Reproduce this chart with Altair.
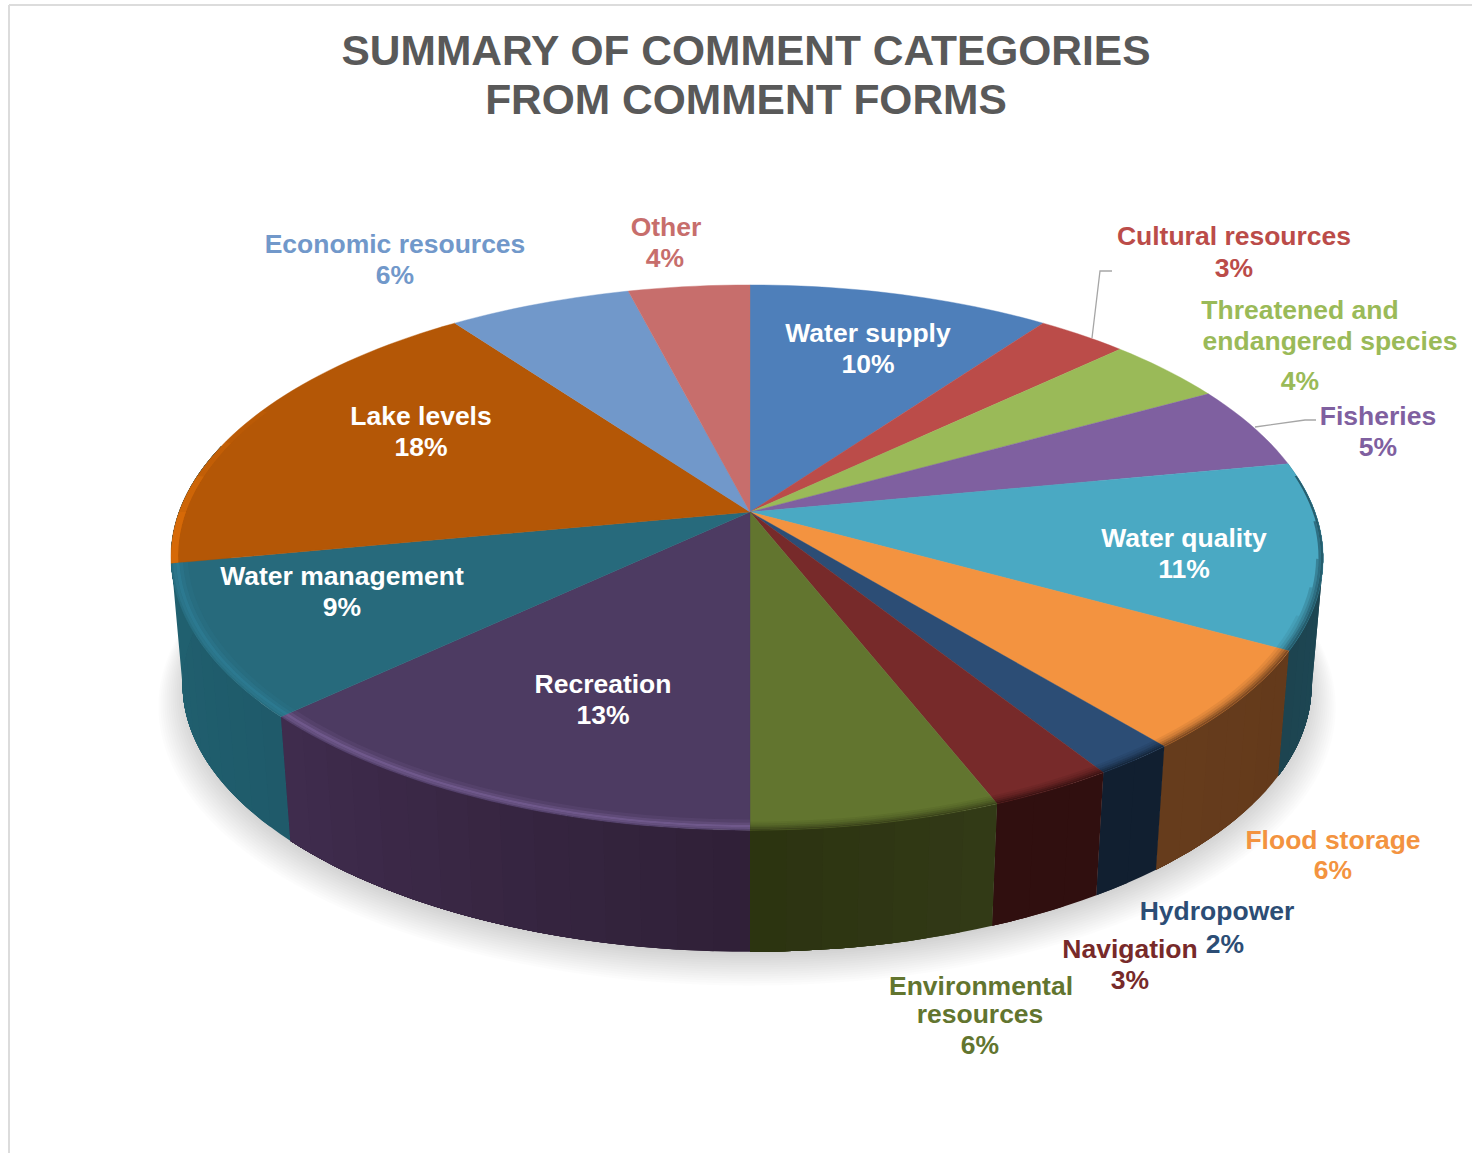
import math
import altair as alt

# Comment categories, clockwise from twelve o'clock
categories = ["Water supply", "Cultural resources", "Threatened and endangered species",
              "Fisheries", "Water quality", "Flood storage", "Hydropower", "Navigation",
              "Environmental resources", "Recreation", "Water management", "Lake levels",
              "Economic resources", "Other"]
shares = [10, 3, 4, 5, 11, 6, 2, 3, 6, 13, 9, 18, 6, 4]
top_colors = ["#4e7fba", "#bb4c49", "#9aba58", "#7f60a0", "#4aa9c3", "#f39340", "#2c4d75",
              "#772a2a", "#62752f", "#4d3b62", "#276a7c", "#b45706", "#7198ca", "#c76e6c"]
# Colour of the outer wall at the start and the end of each slice
wall_start = ["#2e4c70", "#702c2b", "#5c6e34", "#4b3a60", "#1d4a58", "#643a1b", "#111f30",
              "#300f0f", "#333a17", "#2f2037", "#1f5a6a", "#a04c05", "#43597a", "#753f3f"]
wall_end = ["#2e4c70", "#702c2b", "#5c6e34", "#4b3a60", "#1d4450", "#663c1c", "#111f30",
            "#300f0f", "#2b3310", "#402c4e", "#20606f", "#a04c05", "#43597a", "#753f3f"]

# Perspective of the pie disc
CX, CY = 750.0, 512.0
HALF_W, HALF_H, TILT, LEAN = 568.0, 265.0, 0.167, 3.0
WALL_SCALE, WALL_Y = 0.98, 640.0
# Angle where the disc's left silhouette ends the visible wall
LEFT_SILHOUETTE = 285.0


def project(deg, radius=1.0, cy=CY, scale=1.0):
    t = math.radians(deg)
    u, v = radius * math.sin(t), radius * math.cos(t)
    w = 1 + TILT * v
    return [CX + scale * HALF_W * u / w - LEAN * u * u, cy - scale * HALF_H * v / w]


def arc(a0, a1, radius=1.0, cy=CY, scale=1.0):
    n = max(2, int(abs(a1 - a0) / 1.5) + 1)
    return [project(a0 + (a1 - a0) * i / (n - 1), radius, cy, scale) for i in range(n)]


def feature(ring, **props):
    return {"type": "Feature", "properties": props,
            "geometry": {"type": "Polygon", "coordinates": [ring + [ring[0]]]}}


def mix(c0, c1, f):
    a = [int(c0[i:i + 2], 16) for i in (1, 3, 5)]
    b = [int(c1[i:i + 2], 16) for i in (1, 3, 5)]
    return "#%02x%02x%02x" % tuple(round(x + (y - x) * f) for x, y in zip(a, b))


# Slice angles from the shares
edges = [0.0]
for s in shares:
    edges.append(edges[-1] + s * 3.6)

shadow, walls, tops, rims = [], [], [], []

# Soft ground shadow: stacked translucent discs, each a little larger
for i in range(18):
    grow = 0.0035 * (i - 5)
    ring = arc(0, 360, 1.0, WALL_Y + 1 + 1.15 * i, WALL_SCALE + grow)
    shadow.append(feature(ring[:-1], fill="#000000", o=0.0135))

for idx, name in enumerate(categories):
    a0, a1 = edges[idx], edges[idx + 1]
    # Outer wall: each strip runs to the slice end and the next one paints over it,
    # so the shade changes along the wall without seams
    if a1 > 85 and a0 < 250:
        wall_to = LEFT_SILHOUETTE if name == "Water management" else a1
        steps = max(1, int((a1 - a0) / 3))
        for j in range(steps):
            b0 = a0 + (a1 - a0) * j / steps
            ring = arc(b0, wall_to) + arc(wall_to, b0, 1.0, WALL_Y, WALL_SCALE)
            c = mix(wall_start[idx], wall_end[idx], (j + 0.5) / steps)
            walls.append(feature(ring, fill=c, o=1))
    # Top face of the slice
    tops.append(feature([[CX, CY]] + arc(a0, a1), fill=top_colors[idx], o=1))

    # Rim of the disc: lit on the left, shaded on the right
    lit = {"Recreation": "#7d659c", "Water management": "#2f8098"}
    if name in lit:
        bands = [(0.972, 0.98, 0.15), (0.98, 0.986, 0.4), (0.986, 0.992, 0.7),
                 (0.992, 0.997, 0.5), (0.997, 1.0, 0.2)]
        for r0, r1, o in bands:
            ring = arc(a0, a1, r1) + arc(a1, a0, r0)
            rims.append(feature(ring, fill=lit[name], o=o))
    elif name == "Lake levels":
        # The lit edge fades out as it climbs the left side
        for end, o in [(270, 0.35), (278, 0.3), (286, 0.2), (294, 0.12)]:
            ring = arc(a0, end, 1.0) + arc(end, a0, 0.988)
            rims.append(feature(ring, fill="#e8730a", o=o))
    elif a1 > 80 and a1 <= 180:
        # The shaded edge widens gradually as it comes round the right side
        bands = [(0.978, 0.983, 0.1, 112), (0.983, 0.988, 0.22, 106), (0.988, 0.992, 0.4, 100),
                 (0.992, 0.996, 0.6, 92), (0.996, 1.0, 0.8, 82)]
        for r0, r1, o, begin in bands:
            start = max(a0, begin)
            if start < a1:
                ring = arc(start, a1, r1) + arc(a1, start, r0)
                rims.append(feature(ring, fill=wall_start[idx], o=o))

# Label lines: text, colour, centre and baseline
label_text = ["Economic resources", "6%", "Other", "4%", "Cultural resources", "3%",
              "Threatened and", "endangered species", "4%", "Fisheries", "5%",
              "Water supply", "10%", "Water quality", "11%", "Lake levels", "18%",
              "Water management", "9%", "Recreation", "13%", "Flood storage", "6%",
              "Hydropower", "2%", "Navigation", "3%", "Environmental", "resources", "6%"]
label_color = ["#7198ca"] * 2 + ["#c76e6c"] * 2 + ["#bb4c49"] * 2 + ["#9aba58"] * 3 + \
              ["#7f60a0"] * 2 + ["#ffffff"] * 10 + ["#f39340"] * 2 + ["#2c4d75"] * 2 + \
              ["#772a2a"] * 2 + ["#62752f"] * 3
label_x = [395, 395, 666, 665, 1234, 1234, 1300, 1330, 1300, 1378, 1378,
           868, 868, 1184, 1184, 421, 421, 342, 342, 603, 603, 1333, 1333,
           1217, 1225, 1130, 1130, 981, 980, 980]
label_y = [253, 284, 236, 267, 245, 277, 319, 350, 390, 425, 456,
           342, 373, 547, 578, 425, 456, 585, 616, 693, 724, 849, 879,
           920, 953, 958, 989, 995, 1023, 1054]
labels = [{"t": t, "c": c, "x": x, "y": y}
          for t, c, x, y in zip(label_text, label_color, label_x, label_y)]

title_lines = [{"t": "SUMMARY OF COMMENT CATEGORIES", "x": 746, "y": 65},
               {"t": "FROM COMMENT FORMS", "x": 746, "y": 114}]

# Leader lines of the two labels that sit away from their slices
leaders = [
    {"k": "c", "n": 0, "x": 1092, "y": 338}, {"k": "c", "n": 1, "x": 1100, "y": 271},
    {"k": "c", "n": 2, "x": 1112, "y": 271},
    {"k": "f", "n": 0, "x": 1255, "y": 427}, {"k": "f", "n": 1, "x": 1305, "y": 420},
    {"k": "f", "n": 2, "x": 1316, "y": 420},
]
frame = [{"k": "t", "n": 0, "x": 9, "y": 5}, {"k": "t", "n": 1, "x": 1472, "y": 5},
         {"k": "l", "n": 0, "x": 9, "y": 5}, {"k": "l", "n": 1, "x": 9, "y": 1153}]


def polygons(features, stroke_width=0.0):
    mark = alt.Chart(alt.Data(values=features)).mark_geoshape(strokeWidth=stroke_width)
    enc = {"fill": alt.Fill("properties.fill:N", scale=None),
           "opacity": alt.Opacity("properties.o:Q", scale=None)}
    if stroke_width:
        enc["stroke"] = alt.Stroke("properties.fill:N", scale=None)
    return mark.encode(**enc).project(type="identity", scale=1, translate=[0, 0])


def polyline(rows, color, width):
    return alt.Chart(alt.Data(values=rows)).mark_line(color=color, strokeWidth=width).encode(
        x=alt.X("x:Q", scale=None, axis=None),
        y=alt.Y("y:Q", scale=None, axis=None),
        detail="k:N", order="n:Q")


label_layer = alt.Chart(alt.Data(values=labels)).mark_text(
    font="Liberation Sans", fontWeight="bold", fontSize=26.5, align="center", baseline="alphabetic"
).encode(
    x=alt.X("x:Q", scale=None, axis=None), y=alt.Y("y:Q", scale=None, axis=None),
    text="t:N", color=alt.Color("c:N", scale=None))

title_layer = alt.Chart(alt.Data(values=title_lines)).mark_text(
    font="Liberation Sans", fontWeight="bold", fontSize=42.5, align="center",
    baseline="alphabetic", color="#595959"
).encode(
    x=alt.X("x:Q", scale=None, axis=None), y=alt.Y("y:Q", scale=None, axis=None), text="t:N")

chart = alt.layer(
    polyline(frame, "#dcdcdc", 2),
    polygons(shadow),
    polygons(walls),
    polygons(tops, 0.4),
    polygons(rims),
    polyline(leaders, "#a6a6a6", 1.3),
    title_layer,
    label_layer,
).properties(
    width=1472, height=1153, padding=0, background="#ffffff",
    autosize=alt.AutoSizeParams(type="none"),
).configure_view(stroke=None)

chart.save("out.html", embed_options={"renderer": "svg", "actions": False})
